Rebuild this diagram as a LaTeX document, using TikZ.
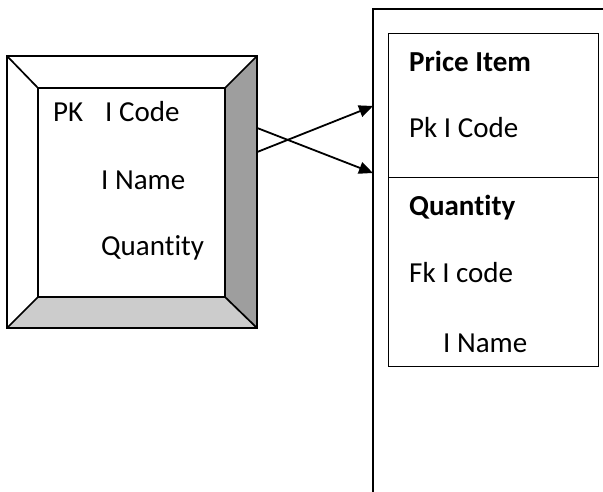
\documentclass[tikz,border=0pt]{standalone}
\usepackage{fontspec}
\setmainfont{Carlito}[Ligatures=NoCommon]
\usetikzlibrary{arrows.meta,calc}
\begin{document}
\begin{tikzpicture}[x=1pt,y=-1pt,
  txt/.style={anchor=base west,inner sep=0pt,font=\fontsize{29}{33}\selectfont},
  btxt/.style={txt,font=\fontsize{29}{33}\selectfont\bfseries},
  edge/.style={line width=1.7pt,line join=miter},
  conn/.style={line width=1.8pt,-{Triangle[length=14pt,width=12pt]}},
  tbl/.style={draw,line width=1.3pt,inner sep=0pt}]
\useasboundingbox (0,0) rectangle (603,492);
\clip (0,0) rectangle (603,492);
% bevel entity (left)
\coordinate (o1) at (7,56);   \coordinate (o2) at (257,56);
\coordinate (o3) at (257,328); \coordinate (o4) at (7,328);
\coordinate (i1) at (38,88);  \coordinate (i2) at (225,88);
\coordinate (i3) at (225,297); \coordinate (i4) at (38,297);
\fill[white] (o1) -- (o2) -- (i2) -- (i1) -- cycle;
\fill[white] (o1) -- (i1) -- (i4) -- (o4) -- cycle;
\fill[black!38] (o2) -- (o3) -- (i3) -- (i2) -- cycle;
\fill[black!20] (o4) -- (i4) -- (i3) -- (o3) -- cycle;
\draw[edge] (o1) -- (o2) -- (o3) -- (o4) -- cycle;
\draw[edge] (i1) -- (i2) -- (i3) -- (i4) -- cycle;
\draw[edge] (o1) -- (i1) (o2) -- (i2) (o3) -- (i3) (o4) -- (i4);
\node[inner sep=0pt,minimum width=250pt,minimum height=272pt] (ent) at (132,192) {};
\node[txt] (pk) at (53,121.7) {PK};
\node[txt] (icode) at (105,121.7) {I Code};
\node[txt] (iname) at (101,190) {I Name};
\node[txt] (qty) at (101,255) {Quantity};
% big container (right)
\draw[edge] (640,9) -- (373,9) -- (373,520);
% tables
\node[tbl,anchor=north west,minimum width=210pt,minimum height=144pt] (price) at (388,33) {};
\node[tbl,anchor=north west,minimum width=210pt,minimum height=189pt] (quant) at (388,177) {};
\node[btxt] (pt) at (409,71.7) {Price Item};
\node[txt] (pkc) at (409,138) {Pk I Code};
\node[btxt] (qt) at (409,215) {Quantity};
\node[txt] (fk) at (409,282) {Fk I code};
\node[txt] (nm) at (443,352) {I Name};
% connectors
\coordinate (s1) at (ent.east |- 0,128);
\coordinate (s2) at (ent.east |- 0,152);
\coordinate (e1) at (373,173);
\coordinate (e2) at (373,106);
\draw[conn] (s1) -- (e1);
\draw[conn] (s2) -- (e2);
\end{tikzpicture}
\end{document}
